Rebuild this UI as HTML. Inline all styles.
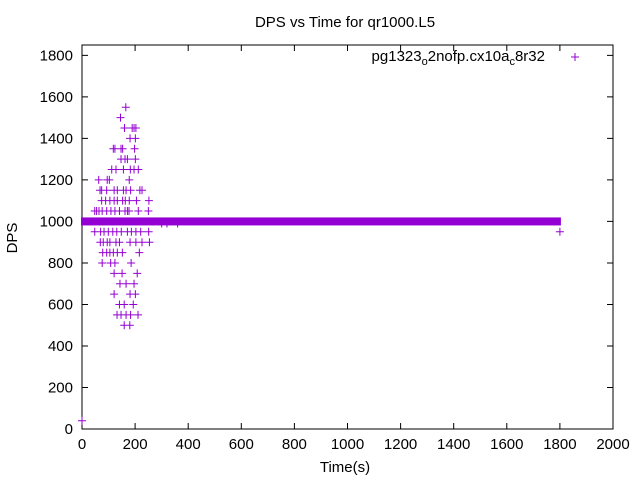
<!DOCTYPE html>
<html><head><meta charset="utf-8"><style>
html,body{margin:0;padding:0;background:#fff}
svg{display:block;font-family:"Liberation Sans",sans-serif}
</style></head><body>
<svg id="chart" width="640" height="480">
<rect width="640" height="480" fill="#fff"/>
<g id="axes"></g>
<g id="marks"></g>
<text x="345" y="27" text-anchor="middle" font-size="15">DPS vs Time for qr1000.L5</text>
<text x="345" y="472" text-anchor="middle" font-size="15">Time(s)</text>
<text x="17" y="238" text-anchor="middle" font-size="15" transform="rotate(-90 17 238)">DPS</text>
<g>
<text x="545" y="61" text-anchor="end" font-size="15">pg1323<tspan font-size="11" dy="4">o</tspan><tspan dy="-4">2nofp.cx10a</tspan><tspan font-size="11" dy="4">c</tspan><tspan dy="-4">8r32</tspan></text>
<path d="M571 57h8M575 53v8" stroke="#9400d3" stroke-width="1"/>
</g>
</svg>
<script>
const xTicks=[0,200,400,600,800,1000,1200,1400,1600,1800,2000];
const yTicks=[0,200,400,600,800,1000,1200,1400,1600,1800];
const rowValues=[1550,1500,1450,1400,1350,1300,1250,1200,1150,1100,1050,950,900,850,800,750,700,650,600,550,500];
const rowTimes=[
[165],[145],[160,189,196,203],[181,201],[118,124,147,153,198],[147,162,171,201],
[112,128,156,182,196,212],[63,95,103,178],[68,74,93,121,133,156,166,183,218,226],
[74,89,105,121,133,153,163,178,205,252],[48,55,64,76,93,109,124,141,162,171,177,212,250],
[48,70,83,99,116,131,148,171,186,203,221,251],[69,80,95,105,128,141,181,203,226,254],
[78,93,105,118,133,152,216],[76,108,124,185],[121,151,208],[143,166,196],[121,181,201],
[141,159,193],[132,147,166,183,211],[159,180]];
const steadyStart=0, steadyEnd=1800, steadyValue=1000;
const extraTimes=[1800,0,300,320,360];
const extraValues=[950,40,990,990,990];
const X0=82,X1=613,Y0=429,Y1=45;
const xs=t=>X0+(t/2000)*(X1-X0);
const ys=v=>Y0-(v/1850)*(Y0-Y1);
const NS="http://www.w3.org/2000/svg";
const axes=document.getElementById('axes'),marks=document.getElementById('marks');
function mk(tag,at,parent){const e=document.createElementNS(NS,tag);for(const k in at)e.setAttribute(k,at[k]);parent.appendChild(e);return e;}
const frame=mk('rect',{x:X0,y:Y1,width:X1-X0,height:Y0-Y1,fill:'none',stroke:'#000','stroke-width':1},axes);


xTicks.forEach(t=>{const x=xs(t);
const l=mk('path',{d:`M${x} ${Y0}v-6M${x} ${Y1}v6`,stroke:'#000'},axes);


const tx=mk('text',{x:x,y:Y0+20,'text-anchor':'middle','font-size':15},axes);tx.textContent=t;

});
yTicks.forEach(v=>{const y=ys(v);
const l=mk('path',{d:`M${X0} ${y}h6M${X1} ${y}h-6`,stroke:'#000'},axes);


const tx=mk('text',{x:X0-9,y:y+5,'text-anchor':'end','font-size':15},axes);tx.textContent=v;

});
let d='';
function plus(t,v){const x=xs(t),y=ys(v);d+=`M${x-4} ${y}h8M${x} ${y-4}v8`;}
rowValues.forEach((v,i)=>rowTimes[i].forEach(t=>plus(t,v)));
extraTimes.forEach((t,i)=>plus(t,extraValues[i]));
const pts=mk('path',{d:d,stroke:'#9400d3','stroke-width':1,fill:'none'},marks);


const band=mk('rect',{x:xs(steadyStart)-1,y:ys(steadyValue)-4,width:xs(steadyEnd)-xs(steadyStart)+2,height:8,fill:'#9400d3'},marks);


</script>
</body></html>
